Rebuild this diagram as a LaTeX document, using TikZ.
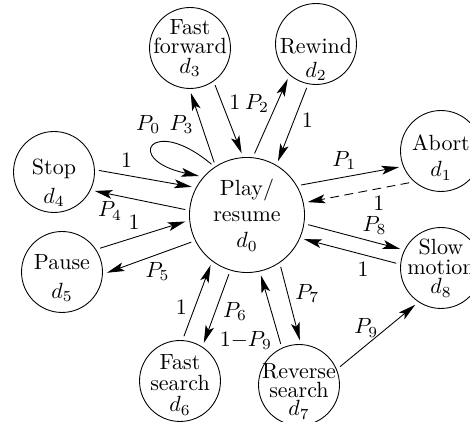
\documentclass[tikz,border=0pt]{standalone}
\usepackage{amsmath}
\usepackage{amssymb}
\usepackage{tikz}
\usetikzlibrary{arrows.meta}
% strut to push the node text down a little
\newcommand{\lift}[1]{\rule{0pt}{#1}}

\begin{document}
\begin{tikzpicture}[x=0.4545pt,y=0.4545pt]
	\tikzstyle{main}=[circle, minimum size = 36.8pt, inner sep=-8pt, outer sep=2pt, draw =black, align=center]
\tikzstyle{big}=[minimum size = 52.3pt]
\tikzstyle{connect}=[-{Stealth[length=8pt,width=4pt,inset=1.8pt]}]
\tikzstyle{back}=[dash pattern=on 4pt off 2.5pt]
  \useasboundingbox (0,0) rectangle (470,422);
  \node[main, big] (play) at (247,207) {Play/\\resume\\$d_0$};
  \node[main] (ffwd) at (190,374) {Fast\\[-3pt]forward\\[-3pt]$d_3$};
  \node[main] (rewind) at (316,378) {\lift{21pt}Rewind\\[-1pt]$d_2$};
  \node[main] (abort) at (441,271) {\lift{13pt}Abort\\$d_1$};
  \node[main] (stop) at (54,250) {\lift{17pt}Stop\\[1pt]$d_4$};
  \node[main] (pause) at (62,150) {\lift{12.5pt}Pause\\[1pt]$d_5$};
  \node[main] (fsearch) at (180,41) {\lift{10.5pt}Fast\\[-2.5pt]search\\[-2.5pt]$d_6$};
  \node[main] (rsearch) at (299,37) {\lift{12.5pt}Reverse\\[-3.5pt]search\\[-3.5pt]$d_7$};
  \node[main] (slow) at (441,154) {Slow\\[-3pt]motion\\[-3pt]$d_8$};
  \path
        (play.122) edge [connect] node[pos=0.55,left] {$P_3$} (ffwd.-89)
        (ffwd.-56) edge [connect] node[pos=0.25,right] {$1$} (play.95)
        (play.83) edge [connect] node[pos=0.67,left] {$P_2$} (rewind.-129)
        (rewind.-102) edge [connect] node[pos=0.44,right] {$1$} (play.60)
        (play.29) edge [connect] node[pos=0.44,above] {$P_1$} (abort.201)
        (abort.225) edge [connect, back] node[pos=0.3,below] {$1$} (play.12)
        (play.-9) edge [connect] node[pos=0.72,above] {$P_8$} (slow.155)
        (slow.174) edge [connect] node[pos=0.36,below] {$1$} (play.-23)
        (rsearch.24) edge [connect] node[pos=0.35,above] {$P_9$} (slow.-125)
        (play.-57) edge [connect] node[pos=0.36,right] {$P_7$} (rsearch.89)
        (rsearch.114) edge [connect] node[pos=0.05,left] {$1{-}P_9$} (play.-77)
        (play.-107) edge [connect] node[pos=0.54,right] {$P_6$} (fsearch.58)
        (fsearch.85) edge [connect] node[pos=0.4,left] {$1$} (play.-126)
        (play.206) edge [connect] node[pos=0.4,below] {$P_5$} (pause.-1)
        (pause.32) edge [connect] node[pos=0.4,above] {$1$} (play.186)
        (play.175) edge [connect] node[pos=0.83,below] {$P_4$} (stop.-25)
        (stop.2) edge [connect] node[pos=0.3,above] {$1$} (play.153);
  % self loop on play
  \draw[connect] (play.125) .. controls +(140:78) and +(168:78) .. node[pos=0.3,above left] {$P_0$} (play.141);

	\end{tikzpicture}
\end{document}
